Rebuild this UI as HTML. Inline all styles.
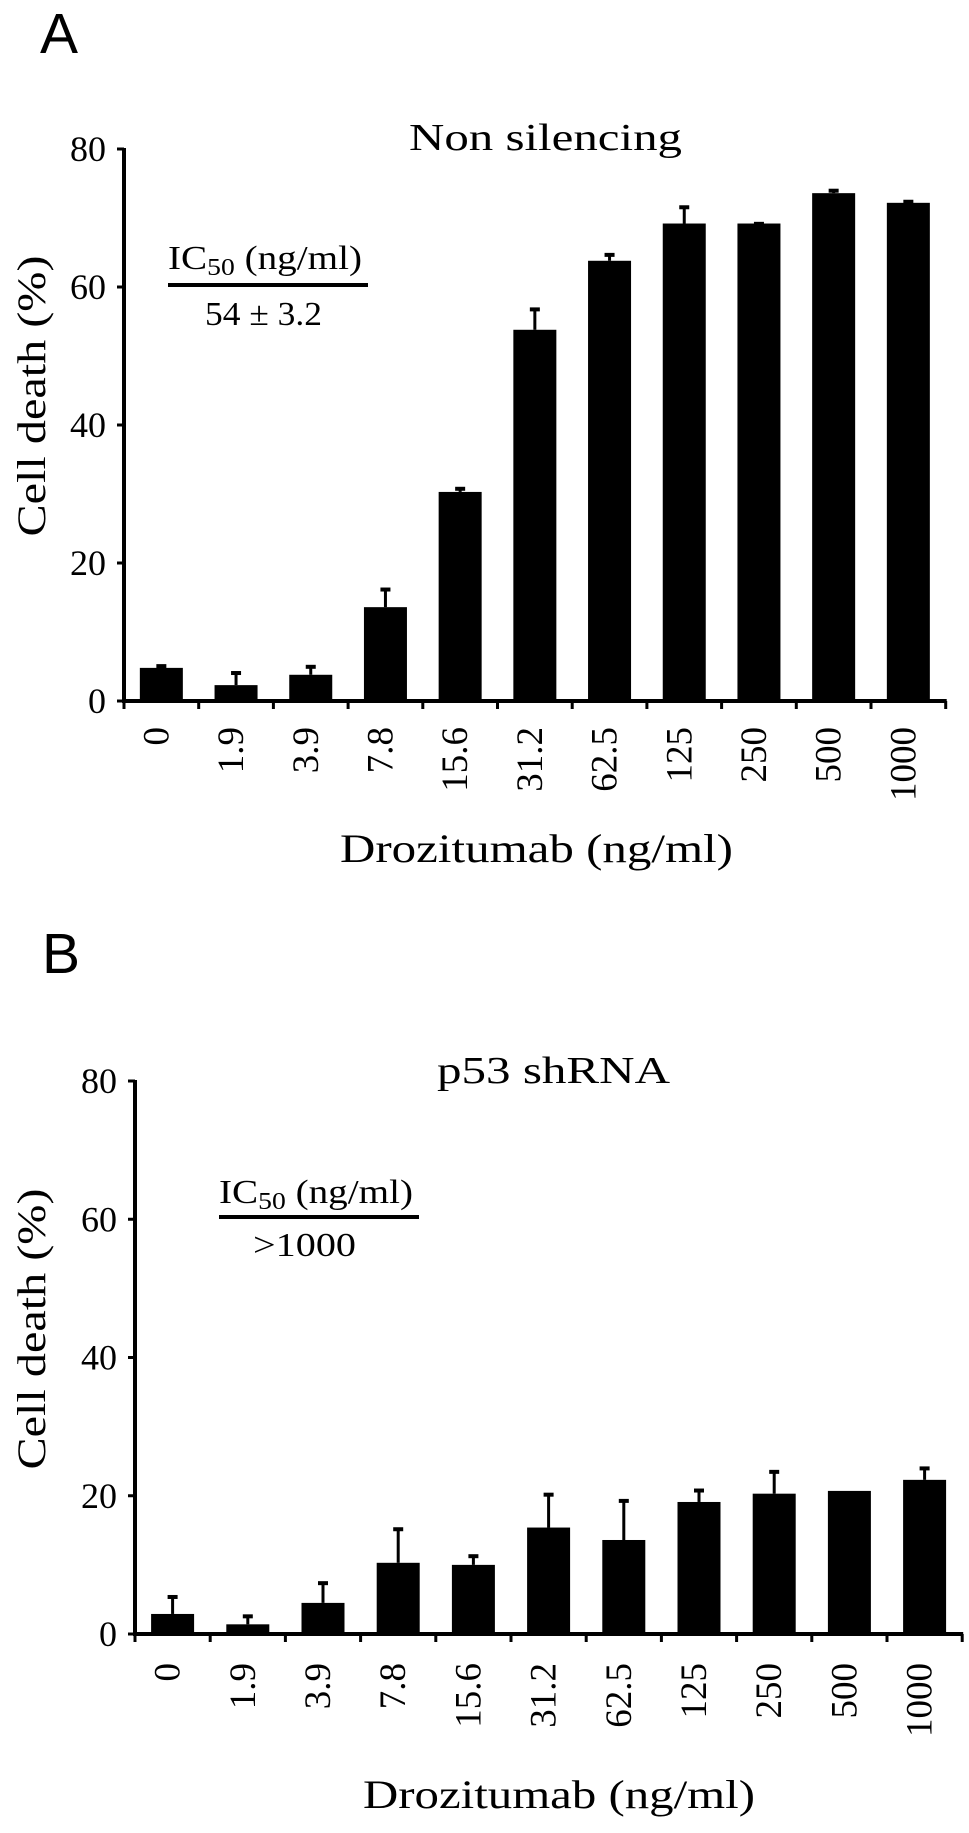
<!DOCTYPE html>
<html><head><meta charset="utf-8"><style>
html,body{margin:0;padding:0;background:#fff;}
svg{display:block;}
text{font-family:"Liberation Serif",serif;fill:#000;}
text.sans{font-family:"Liberation Sans",sans-serif;}
</style></head><body>
<svg id="fig" width="969" height="1833" viewBox="0 0 969 1833"></svg>
<script>
const categories = ["0","1.9","3.9","7.8","15.6","31.2","62.5","125","250","500","1000"];
const yTicks = [0,20,40,60,80];
const valuesA = [4.8,2.3,3.8,13.6,30.3,53.8,63.8,69.2,69.2,73.6,72.2];
const errorsA = [0.4,1.9,1.3,2.7,0.6,3.1,1.0,2.5,0.1,0.5,0.3];
const valuesB = [2.9,1.4,4.5,10.3,10.0,15.4,13.6,19.1,20.3,20.7,22.3];
const errorsB = [2.6,1.3,3.0,5.0,1.4,4.9,5.8,1.8,3.3,0,1.8];

const NS = "http://www.w3.org/2000/svg";
const svg = document.getElementById("fig");
function mk(tag, attrs, parent, txt){
  const e = document.createElementNS(NS, tag);
  for (const k in attrs) e.setAttribute(k, attrs[k]);
  if (txt !== undefined) e.textContent = txt;
  (parent || svg).appendChild(e);
  return e;
}

function panel(p){
  const g = mk("g", {});
  
  
  const yScale = v => p.y0 - (v / 80) * (p.y0 - p.y80);
  const xScale = i => p.ax + p.step / 2 + i * p.step;

  const letter = mk("text", {x: p.letterX, y: p.letterY, "class": "sans", style: "font-family:'Liberation Sans',sans-serif", "font-size": 57}, g, p.letter);
  
  

  const title = mk("text", {x: p.titleX, y: p.titleY, "font-size": 38, textLength: p.titleLen, lengthAdjust: "spacingAndGlyphs"}, g, p.title);
  
  

  for (let i = 0; i < categories.length; i++){
    const cx = xScale(i);
    const top = yScale(p.values[i]);
    const bar = mk("rect", {x: cx - 21.5, y: top, width: 43, height: p.y0 - top, fill: "#000"}, g);
    
    
    if (p.errors[i] > 0){
      const et = yScale(p.values[i] + p.errors[i]);
      const eb = mk("line", {x1: cx, x2: cx, y1: top, y2: et, stroke: "#000", "stroke-width": 3}, g);
      
      
      const cap = mk("rect", {x: cx - 5, y: et - 1, width: 10, height: 4, fill: "#000"}, g);
      
      
    }
  }

  const yAxis = mk("line", {x1: p.ax, x2: p.ax, y1: p.y80 - 1, y2: p.y0 + 2, stroke: "#000", "stroke-width": 4}, g);
  
  
  const xEnd = p.ax + categories.length * p.step + 1;
  const xAxis = mk("line", {x1: p.ax - 2, x2: xEnd, y1: p.y0, y2: p.y0, stroke: "#000", "stroke-width": 4}, g);
  
  

  yTicks.forEach(t => {
    const y = yScale(t);
    const tk = mk("line", {x1: p.ax - 7, x2: p.ax, y1: y, y2: y, stroke: "#000", "stroke-width": 3}, g);
    
    
    const lb = mk("text", {x: p.ax - 18, y: y + 12, "font-size": 36, "text-anchor": "end"}, g, String(t));
    
    
  });

  for (let i = 0; i <= categories.length; i++){
    const x = p.ax + i * p.step;
    const tk = mk("line", {x1: x, x2: x, y1: p.y0, y2: p.y0 + 8, stroke: "#000", "stroke-width": 3}, g);
    
    
  }
  categories.forEach((c, i) => {
    const cx = xScale(i);
    const lb = mk("text", {x: 0, y: 0, "font-size": 37, "text-anchor": "end",
      transform: "translate(" + (cx + 7) + "," + p.xlabTop + ") rotate(-90)"}, g, c);
    
    
  });

  const yt = mk("text", {x: 0, y: 0, "font-size": 40, "text-anchor": "middle", textLength: p.yTitleLen, lengthAdjust: "spacingAndGlyphs",
    transform: "translate(45," + p.yTitleC + ") rotate(-90)"}, g, "Cell death (%)");
  
  

  const xt = mk("text", {x: p.xTitleX, y: p.xTitleY, "font-size": 40, textLength: p.xTitleLen, lengthAdjust: "spacingAndGlyphs"}, g, "Drozitumab (ng/ml)");
  
  

  const ic = mk("text", {x: p.icX, y: p.icY, "font-size": 34, textLength: 194, lengthAdjust: "spacingAndGlyphs"}, g);
  
  
  mk("tspan", {}, ic, "IC");
  mk("tspan", {"font-size": 24, dy: 6}, ic, "50");
  mk("tspan", {dy: -6}, ic, " (ng/ml)");
  const ln = mk("line", {x1: p.icX, x2: p.icX + 200, y1: p.lineY, y2: p.lineY, stroke: "#000", "stroke-width": 4}, g);
  
  
  const iv = mk("text", {x: p.valX, y: p.valY, "font-size": 34, textLength: p.valLen, lengthAdjust: "spacingAndGlyphs"}, g, p.icVal);
  
  
}

panel({id: "panel-a", letter: "A", letterX: 40, letterY: 53, ax: 124, y0: 701, y80: 149, step: 74.7,
  values: valuesA, errors: errorsA, title: "Non silencing", titleX: 409, titleY: 150, titleLen: 273,
  xlabTop: 727, yTitleC: 396, yTitleLen: 281, xTitleX: 340, xTitleY: 862, xTitleLen: 393,
  icX: 168, icY: 269, lineY: 285, valX: 205, valY: 325, valLen: 117, icVal: "54 \u00b1 3.2"});

panel({id: "panel-b", letter: "B", letterX: 42, letterY: 973, ax: 135, y0: 1634, y80: 1081, step: 75.2,
  values: valuesB, errors: errorsB, title: "p53 shRNA", titleX: 437, titleY: 1083, titleLen: 233,
  xlabTop: 1663, yTitleC: 1329, yTitleLen: 281, xTitleX: 363, xTitleY: 1808, xTitleLen: 392,
  icX: 219, icY: 1203, lineY: 1217, valX: 253, valY: 1256, valLen: 103, icVal: ">1000"});
</script>
</body></html>
